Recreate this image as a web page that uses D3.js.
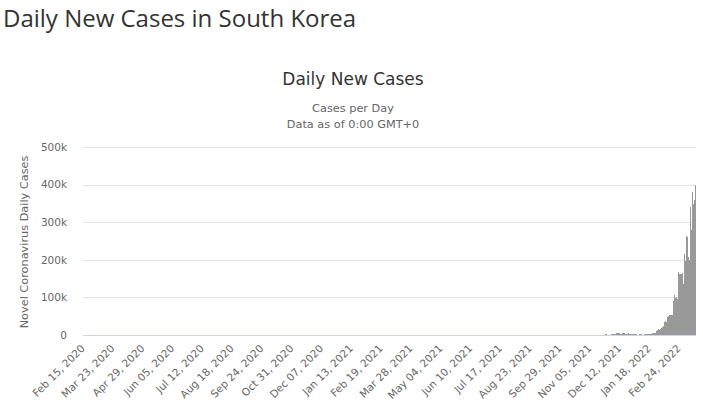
<!DOCTYPE html>
<html><head><meta charset="utf-8">
<script src="https://cdn.jsdelivr.net/npm/d3@7"></script>
<style>
html,body{margin:0;padding:0;background:#fff;}
svg{display:block;}
</style></head>
<body>
<svg id="c" width="703" height="407"></svg>
<script>
// ---- DATA ----
const startDate = "2020-02-15";
const feb2020 = [0,0,1,1,20,53,100,229,169,231,144,284,505,571,813];
const mar2020 = [586,476,600,516,438,518,483,367,248,131,242,114,110,107,76,74,84,93,152,87,147,98,64,76,100,104,91,146,105,78,125];
const apr2020 = [101,89,86,94,81,47,47,53,39,27,30,32,25,27,27,22,22,18,8,13,9,11,8,6,10,10,10,14,9,4];
const may2020 = [9,6,13,8,3,2,4,12,18,34,35,27,26,29,27,19,13,15,13,32,12,20,23,25,16,19,40,79,58,39,27];
const jun2020 = [35,38,49,39,39,51,57,38,38,50,45,56,48,49,37,34,43,59,49,67,48,17,46,51,28,39,51,62,42,43];
const jul2020 = [54,63,63,61,48,44,62,50,45,35,44,62,33,39,61,60,39,34,26,45,63,59,41,113,58,25,28,48,18,36,31];
const aug2020 = [36,30,23,34,33,43,20,36,28,34,54,56,103,166,279,197,246,297,288,324,332,397,266,280,320,441,371,323,299,248,235];
const sep2020 = [267,195,198,168,167,119,136,156,155,176,136,121,109,106,113,153,126,110,82,70,61,110,125,114,61,95,50,38,113,77];
const oct2020 = [63,75,64,73,75,114,69,54,72,58,98,102,84,110,47,73,91,76,58,89,121,155,77,61,119,88,103,125,114,127,124];
const nov2020 = [97,75,118,125,145,89,143,126,100,146,143,191,205,208,223,230,313,343,363,386,330,271,349,382,583,569,555,503,450,438];
const dec2020 = [511,540,629,583,631,615,594,686,682,689,950,1030,718,880,1078,1014,1064,1097,1046,926,867,1090,985,1241,1132,970,807,1045,1050,967,1029];
const jan2021 = [824,657,1020,715,1020,869,674,641,665,451,537,561,524,513,580,520,389,386,404,400,346,431,392,437,349,559,497,469,458,355,305];
const feb2021 = [336,467,451,370,393,372,289,303,444,403,504,403,362,326,343,457,621,561,448,416,332,357,440,396,406,415,355,344];
const mar2021 = [355,344,444,424,398,418,416,346,446,470,465,488,459,382,363,469,445,463,452,456,415,346,428,430,494,505,482,382,447,506,551];
const apr2021 = [557,543,543,473,477,668,700,671,677,614,587,542,731,698,673,658,672,532,549,731,735,797,785,644,499,512,769,775,661,627];
const may2021 = [606,488,541,676,574,525,701,564,463,511,635,715,747,681,610,619,467,528,654,646,561,666,585,430,516,707,629,587,533,480,430];
const jun2021 = [459,677,681,695,744,556,485,602,709,610,556,565,452,399,545,540,482,507,482,357,395,645,610,634,668,614,501,595,794,762];
const jul2021 = [826,794,743,711,746,1212,1275,1316,1378,1324,1100,1150,1615,1600,1536,1452,1454,1252,1278,1784,1842,1630,1629,1487,1318,1365,1896,1674,1710,1539,1442];
const aug2021 = [1219,1202,1725,1776,1704,1823,1729,1492,1240,1537,2223,1987,1990,1930,1816,1556,1372,2152,2050,2052,1882,1628,1418,1509,2155,1882,1840,1793,1619,1485,1372];
const sep2021 = [2025,1961,1709,1804,1490,1375,1597,2050,2049,1892,1865,1755,1433,1497,2080,1944,1605,2008,1910,1604,1729,1720,2434,3273,2771,2769,2383,2289,2885,2564];
const oct2021 = [2486,2086,2248,1673,1575,2028,2427,2175,2176,1594,1297,1347,1584,1940,1684,1618,1420,1073,1050,1571,1440,1508,1423,1266,1190,1266,1952,2111,2124,2104,1686];
const nov2021 = [1589,2667,2482,2343,2344,2248,2224,1758,1715,2425,2520,2368,2324,2419,2006,2125,3187,3292,3034,3205,3120,2827,2699,4116,4068,3899,3938,3925,3309,3032];
const dec2021 = [5123,5266,4944,5352,5128,4325,4954,7175,7102,7022,6977,6689,5817,5567,7850,7622,7435,7314,6236,5318,5202,7456,6919,6233,5842,5419,4207,3865,5409,5037,4875];
const jan2022 = [4415,3833,3129,3024,4443,4126,3713,4048,3376,3005,4388,4542,4167,4422,4195,4193,3859,4071,5805,6603,6769,7009,7630,7513,8571,13012,14518,16096,17542,17079,18342];
const feb2022 = [17528,20270,22907,27443,36362,38691,35286,36719,49567,54122,53926,54941,56431,54619,57177,90443,93135,109831,102211,104829,95362,99573,171452,166209,165890,163565,166722,139626];
const mar2022 = [138993,219241,198803,266853,254327,264171,210716,202721,342446,327549,282987,383659,350190,309790,362338,400741];

const yTicks = [0,100000,200000,300000,400000,500000];
const yTickLabels = ["0","100k","200k","300k","400k","500k"];
const xTickLabels = ["Feb 15, 2020","Mar 23, 2020","Apr 29, 2020","Jun 05, 2020","Jul 12, 2020","Aug 18, 2020","Sep 24, 2020","Oct 31, 2020","Dec 07, 2020","Jan 13, 2021","Feb 19, 2021","Mar 28, 2021","May 04, 2021","Jun 10, 2021","Jul 17, 2021","Aug 23, 2021","Sep 29, 2021","Nov 05, 2021","Dec 12, 2021","Jan 18, 2022","Feb 24, 2022"];

// ---- BUILD ----
const values = [].concat(feb2020,mar2020,apr2020,may2020,jun2020,jul2020,aug2020,sep2020,oct2020,nov2020,dec2020,
  jan2021,feb2021,mar2021,apr2021,may2021,jun2021,jul2021,aug2021,sep2021,oct2021,nov2021,dec2021,
  jan2022,feb2022,mar2022);
const fmt = d3.timeFormat("%b %d, %Y");
const start = d3.timeParse("%Y-%m-%d")(startDate);
const categories = values.map((v,i)=>fmt(d3.timeDay.offset(start,i)));
const data = categories.map((c,i)=>({cat:c, v:values[i]}));

const svg = d3.select("#c");
const L = 83, R = 696, T = 148, B = 336;
const FONT = "'DejaVu Sans', Verdana, sans-serif";

const x = d3.scaleBand().domain(categories).range([L,R]).padding(0);
const y = d3.scaleLinear().domain([0,500000]).range([B,T]);

// page title
svg.append("text").attr("x",3).attr("y",27)
  .attr("font-family","'Open Sans', sans-serif").attr("font-size",24).attr("fill","#333")
  .text("Daily New Cases in South Korea");

// chart title & subtitle
svg.append("text").attr("x",353).attr("y",85).attr("text-anchor","middle")
  .attr("font-family",FONT).attr("font-size",17).attr("fill","#333").text("Daily New Cases");
svg.append("text").attr("x",353).attr("y",112).attr("text-anchor","middle")
  .attr("font-family",FONT).attr("font-size",11.3).attr("fill","#666").text("Cases per Day");
svg.append("text").attr("x",353).attr("y",128).attr("text-anchor","middle")
  .attr("font-family",FONT).attr("font-size",11.3).attr("fill","#666").text("Data as of 0:00 GMT+0");

// gridlines
svg.append("g").selectAll("line").data(yTicks.filter(t=>t>0)).join("line")
  .attr("x1",L).attr("x2",R).attr("y1",d=>Math.round(y(d))-0.5).attr("y2",d=>Math.round(y(d))-0.5)
  .attr("stroke","#e6e6e6").attr("stroke-width",1);

// y axis labels via d3 axis
const yAxis = d3.axisLeft(y).tickValues(yTicks).tickFormat((d,i)=>yTickLabels[i]).tickSize(0).tickPadding(0);
const gy = svg.append("g").attr("transform",`translate(${L-16},-1)`).call(yAxis);
gy.select(".domain").remove();
gy.selectAll("text").attr("font-family",FONT).attr("font-size",10.5).attr("fill","#666").attr("dy","0.32em");

// y title
svg.append("text").attr("transform",`translate(28,${(T+B)/2}) rotate(-90)`).attr("text-anchor","middle")
  .attr("font-family",FONT).attr("font-size",11.3).attr("fill","#666").text("Novel Coronavirus Daily Cases");

// bars (pixel-snapped like the original renderer)
svg.append("g").attr("shape-rendering","crispEdges").selectAll("rect").data(data).join("rect")
  .attr("x",d=>Math.round(x(d.cat)))
  .attr("width",d=>Math.max(1,Math.round(x(d.cat)+x.bandwidth())-Math.round(x(d.cat))))
  .attr("y",d=>Math.round(y(d.v)))
  .attr("height",d=>B-Math.round(y(d.v)))
  .attr("fill","#999");

// x axis line (covers bottom pixel row of the bars)
svg.append("line").attr("x1",L).attr("x2",R).attr("y1",B-0.5).attr("y2",B-0.5)
  .attr("stroke","#ccd6eb").attr("stroke-width",1);

// x tick labels
const xTickCats = categories.filter(c=>xTickLabels.includes(c));
const xAxis = d3.axisBottom(x).tickValues(xTickCats).tickSize(0).tickPadding(0);
const gx = svg.append("g").attr("transform",`translate(0,${B-1})`).call(xAxis);
gx.select(".domain").remove();
gx.selectAll(".tick text")
  .attr("font-family",FONT).attr("font-size",10.5).attr("fill","#666")
  .attr("text-anchor","end").attr("dy",null).attr("y",null)
  .attr("transform","translate(2,14) rotate(-45)");
</script>
</body></html>
